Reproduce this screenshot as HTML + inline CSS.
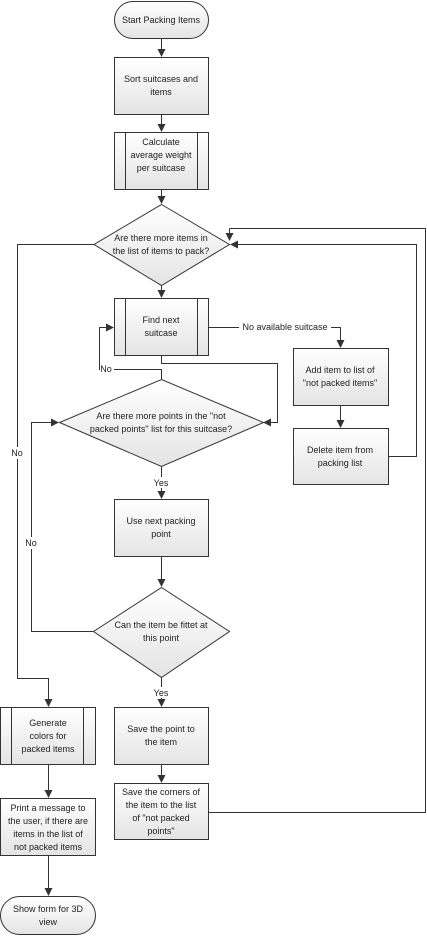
<!DOCTYPE html>
<html><head><meta charset="utf-8"><style>
html,body{margin:0;padding:0;background:#fff;}
svg{display:block;}
text{font-family:"Liberation Sans",sans-serif;font-size:9px;fill:#222;text-anchor:middle;}
</style></head><body>
<svg width="427" height="937" viewBox="0 0 427 937" xmlns="http://www.w3.org/2000/svg">
<defs>
<linearGradient id="g" x1="0" y1="0" x2="0" y2="1"><stop offset="0" stop-color="#ffffff"/><stop offset="1" stop-color="#e4e4e4"/></linearGradient>
<marker id="a" markerWidth="8" markerHeight="8" refX="7" refY="4" orient="auto" markerUnits="userSpaceOnUse"><path d="M0,0 L8,4 L0,8 Z" fill="#333"/></marker>
</defs>
<g stroke="#333" stroke-width="1" fill="none">
<!-- connectors -->
<path d="M161.5,38 V56" marker-end="url(#a)"/>
<path d="M161.5,114 V131" marker-end="url(#a)"/>
<path d="M161.5,189 V203" marker-end="url(#a)"/>
<path d="M161.5,285 V297" marker-end="url(#a)"/>
<path d="M229.5,228.5 H425.5 V812.5 H209" />
<path d="M229.5,228.5 V240" marker-end="url(#a)"/>
<path d="M389,456.5 H416.5 V244.5 H231" marker-end="url(#a)"/>
<path d="M94,244.5 H17.5 V678.5 H48.5 V706" marker-end="url(#a)"/>
<path d="M208,327.5 H340.5 V347" marker-end="url(#a)"/>
<path d="M340.5,405 V427" marker-end="url(#a)"/>
<path d="M161.5,355 V363.5 H277.5 V422.5 H264" marker-end="url(#a)"/>
<path d="M161.5,379 V369.5 H99.5 V327.5 H113" marker-end="url(#a)"/>
<path d="M161.5,466 V498" marker-end="url(#a)"/>
<path d="M161.5,556 V586" marker-end="url(#a)"/>
<path d="M93,631.5 H31.5 V422.5 H58" marker-end="url(#a)"/>
<path d="M161.5,677 V706" marker-end="url(#a)"/>
<path d="M161.5,764 V782" marker-end="url(#a)"/>
<path d="M48.5,764 V797" marker-end="url(#a)"/>
<path d="M48.5,855 V895" marker-end="url(#a)"/>
</g>
<!-- label backgrounds -->
<g fill="#fff">
<rect x="239" y="321" width="92" height="12"/>
<rect x="100" y="364" width="14" height="11"/>
<rect x="152" y="477" width="20" height="11"/>
<rect x="152" y="687" width="20" height="11"/>
<rect x="22" y="537" width="18" height="12"/>
<rect x="9" y="447" width="18" height="12"/>
</g>
<g fill="url(#g)" stroke="#333" stroke-width="1">
<rect x="114.5" y="1.5" width="94" height="37" rx="18.5"/>
<rect x="114.5" y="57.5" width="94" height="57"/>
<rect x="114.5" y="132.5" width="94" height="57"/>
<path d="M161.5,204.5 L229.5,244.5 L161.5,285.5 L94,244.5 Z"/>
<rect x="114.5" y="298.5" width="94" height="57"/>
<rect x="293.5" y="348.5" width="95" height="57"/>
<rect x="293.5" y="428.5" width="95" height="56"/>
<path d="M161.5,379.5 L263.5,422.5 L161.5,466.5 L59.5,422.5 Z"/>
<rect x="114.5" y="499.5" width="94" height="57"/>
<path d="M161.5,587.5 L229.5,631.5 L161.5,677.5 L93.5,631.5 Z"/>
<rect x="114.5" y="707.5" width="94" height="57"/>
<rect x="114.5" y="783.5" width="94" height="56"/>
<rect x="0.5" y="707.5" width="95" height="57"/>
<rect x="0.5" y="798.5" width="95" height="57"/>
<rect x="0.5" y="896.5" width="95" height="38" rx="19"/>
</g>
<g stroke="#333" stroke-width="1">
<path d="M125.5,132.5 V189.5 M197.5,132.5 V189.5"/>
<path d="M125.5,298.5 V355.5 M197.5,298.5 V355.5"/>
<path d="M11.5,707.5 V764.5 M83.5,707.5 V764.5"/>
</g>
<text x="161" y="23">Start Packing Items</text>
<text x="161" y="82">Sort suitcases and</text><text x="161" y="95">items</text>
<text x="161" y="145">Calculate</text><text x="161" y="158">average weight</text><text x="161" y="171">per suitcase</text>
<text x="161" y="241">Are there more items in</text><text x="161" y="254">the list of items to pack?</text>
<text x="161" y="323">Find next</text><text x="161" y="336">suitcase</text>
<text x="285" y="330">No available suitcase</text>
<text x="340" y="373">Add item to list of</text><text x="340" y="386">"not packed items"</text>
<text x="340" y="453">Delete item from</text><text x="340" y="466">packing list</text>
<text x="106" y="372">No</text>
<text x="161" y="419">Are there more points in the "not</text><text x="161" y="432">packed points" list for this suitcase?</text>
<text x="161" y="486">Yes</text>
<text x="161" y="524">Use next packing</text><text x="161" y="537">point</text>
<text x="31" y="546">No</text>
<text x="17" y="456">No</text>
<text x="161" y="628">Can the item be fittet at</text><text x="161" y="641">this point</text>
<text x="161" y="696">Yes</text>
<text x="161" y="732">Save the point to</text><text x="161" y="745">the item</text>
<text x="161" y="795">Save the corners of</text><text x="161" y="808">the item to the list</text><text x="161" y="821">of "not packed</text><text x="161" y="834">points"</text>
<text x="48" y="726">Generate</text><text x="48" y="739">colors for</text><text x="48" y="752">packed items</text>
<text x="48" y="811">Print a message to</text><text x="48" y="824">the user, if there are</text><text x="48" y="837">items in the list of</text><text x="48" y="850">not packed items</text>
<text x="48" y="912">Show form for 3D</text><text x="48" y="925">view</text>
</svg>
</body></html>
